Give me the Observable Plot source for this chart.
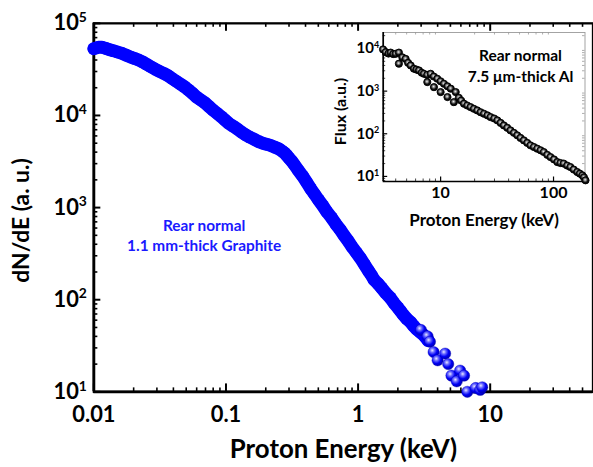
<!DOCTYPE html>
<html><head><meta charset="utf-8">
<script src="https://cdn.jsdelivr.net/npm/d3@7"></script>
<script src="https://cdn.jsdelivr.net/npm/@observablehq/plot@0.6"></script>
<style>
html,body{margin:0;padding:0;background:#fff;overflow:hidden;}
#wrap{position:relative;width:593px;height:467px;overflow:hidden;background:#fff;}
#wrap svg{position:absolute;}
</style></head><body><div id="wrap"></div>
<script>
// ---- main spectrum (1.1 mm graphite), dense band ----
const mainEnergy = [0.0100,0.0108,0.0115,0.0123,0.0130,0.0140,0.0150,0.0163,0.0176,0.0190,0.0204,0.0218,0.0235,0.0250,0.0270,0.0291,0.0315,0.0340,0.0365,0.0388,0.0420,0.0450,0.0485,0.0518,0.0560,0.0600,0.0645,0.0693,0.0745,0.0800,0.0860,0.0920,0.0985,0.105,0.114,0.123,0.131,0.140,0.152,0.164,0.177,0.190,0.205,0.220,0.235,0.250,0.263,0.276,0.288,0.300,0.314,0.328,0.352,0.380,0.408,0.438,0.468,0.500,0.540,0.580,0.630,0.680,0.730,0.780,0.840,0.900,0.970,1.04,1.12,1.20,1.26,1.32,1.41,1.50,1.62,1.75,1.87,2.00,2.10,2.19,2.34,2.50,2.63,2.77,2.92,3.10,3.25,3.39];
const mainDNdE = [53000,55000,55000,53500,52000,50500,49000,47200,45000,43000,41500,40000,38000,36000,33800,31800,30000,28500,27000,25400,23500,22000,20500,19000,17300,15800,14700,13700,12500,11400,10500,9700,8900,8200,7600,7060,6600,6200,5800,5500,5200,5000,4850,4700,4520,4350,4150,3950,3700,3450,3200,2950,2550,2200,1880,1600,1400,1220,1050,900,775,660,580,503,435,375,325,283,240,205,185,165,150,135,118,105,92,82,75,69,62,57,52,48,45,42,39,36];
// ---- main spectrum, sparse high-energy tail ----
const tailEnergy = [2.99,3.36,3.50,3.73,4.00,4.56,4.81,5.09,5.58,5.92,6.34,6.71,7.76,8.40,8.70];
const tailDNdE = [47,40,35,27,22,26,20,15,13,17,15,10,11,10.5,11.2];
// ---- inset spectrum (7.5 um Al) ----
const insetEnergy = [3.09,3.26,3.45,3.61,3.8,4.0,4.27,4.27,4.58,4.9,5.15,5.43,5.8,6.1,6.43,6.8,7.11,7.62,7.6,8.16,8.73,8.7,9.35,10.0,10.0,10.7,11.5,11.5,12.3,13.1,13.6,14.5,15.2,16.1,17.2,18.4,19.7,21.1,22.6,24.2,26,27.7,29.8,31.8,34,36.3,38.9,41.6,44.6,47.7,51,54.6,58.5,62.5,67,71.7,76.8,82,88,94,101,108,115,123,132,141,151,162,171,180,186,192];
const insetFlux = [9500,8200,7600,8000,7400,7500,8000,4400,6200,5700,4600,4000,3350,3200,3050,2700,2550,1630,2400,2550,1240,2200,1950,950,1700,1490,725,1300,1140,552,950,700,600,507,460,422,385,353,320,295,270,246,228,206,180,157,138,120,105,92,80,70,61,53.5,49,44.8,41,37.3,32,28.4,25,21.7,20.6,20,18,16.6,14.5,12.7,11.6,10.6,9.5,8.1];
// ---- ticks and labels ----
const mainXTicks = [0.01,0.1,1,10];
const mainXTickLabels = ["0.01","0.1","1","10"];
const mainYTicks = [10,100,1000,10000,100000];
const mainYExponents = ["1","2","3","4","5"];
const insetXTicks = [10,100];
const insetXTickLabels = ["10","100"];
const insetYTicks = [10,100,1000,10000];
const insetYExponents = ["1","2","3","4"];
const mainXTitle = "Proton Energy (keV)";
const mainYTitle = "dN/dE (a. u.)";
const insetXTitle = "Proton Energy (keV)";
const insetYTitle = "Flux (a.u.)";
const mainNote = "Rear normal\n1.1 mm-thick Graphite";
const insetNote = "Rear normal\n7.5 μm-thick Al";

const minorOf = (decades, mults, lo, hi) => decades.flatMap(d => mults.map(m => d*m)).filter(v => v > lo && v < hi);
const M = [2,3,4,5,6,7,8,9];

const main = mainEnergy.map((e,i) => ({e, v: mainDNdE[i]}));
const tail = tailEnergy.map((e,i) => ({e, v: tailDNdE[i]}));
const inset = insetEnergy.map((e,i) => ({e, v: insetFlux[i]}));

function sup(svg, size) {
  d3.select(svg).selectAll('g[aria-label="y-axis tick label"] text').each(function(){
    const m = this.textContent.match(/^10\^(\d+)$/);
    if (!m) return;
    const t = d3.select(this);
    t.text(null);
    t.append("tspan").text("10");
    t.append("tspan").attr("dy","-0.6em").attr("font-size", size).text(m[1]);
  });
}
function addDefs(svg, suffix) {
  const defs = d3.select(svg).insert("defs", ":first-child");
  const b = defs.append("radialGradient").attr("id","blueBall"+suffix).attr("cx","38%").attr("cy","35%").attr("r","65%");
  b.append("stop").attr("offset","0%").attr("stop-color","#e8e8ff");
  b.append("stop").attr("offset","30%").attr("stop-color","#6a6aff");
  b.append("stop").attr("offset","65%").attr("stop-color","#0000f5");
  b.append("stop").attr("offset","100%").attr("stop-color","#0000b4");
  const k = defs.append("radialGradient").attr("id","blackBall"+suffix).attr("cx","45%").attr("cy","42%").attr("r","60%");
  k.append("stop").attr("offset","0%").attr("stop-color","#f0f0f0");
  k.append("stop").attr("offset","28%").attr("stop-color","#8a8a8a");
  k.append("stop").attr("offset","60%").attr("stop-color","#111");
  k.append("stop").attr("offset","100%").attr("stop-color","#000");
}

// ---- main plot ----
const W = 597, H = 467, mL = 94, mT = 23, mB = 73, mR = 0.5;
const pW = W - mL - mR, pH = H - mT - mB;
const xMinor = minorOf([0.01,0.1,1,10], M, 0.01, 60);
const yMinor = minorOf([10,100,1000,10000], M, 10, 100000);
const font = "Lato, 'Open Sans', sans-serif";

const mainSvg = Plot.plot({
  width: W, height: H, marginLeft: mL, marginRight: mR, marginTop: mT, marginBottom: mB,
  style: {fontFamily: font, fontWeight: "bold", color: "#000", background: "transparent", overflow: "visible"},
  x: {type: "log", domain: [0.01, 60]},
  y: {type: "log", domain: [10, 100000]},
  marks: [
    Plot.ruleX(xMinor, {x: d => d, insetTop: pH - 4, stroke: "#000", strokeWidth: 1.6}),
    Plot.ruleX(mainXTicks, {x: d => d, insetTop: pH - 8, stroke: "#000", strokeWidth: 2}),
    Plot.ruleX(xMinor, {x: d => d, insetBottom: pH - 4, stroke: "#000", strokeWidth: 1.6}),
    Plot.ruleX(mainXTicks, {x: d => d, insetBottom: pH - 8, stroke: "#000", strokeWidth: 2}),
    Plot.ruleY(yMinor, {y: d => d, insetRight: pW - 4, stroke: "#000", strokeWidth: 1.6}),
    Plot.ruleY(mainYTicks, {y: d => d, insetRight: pW - 7, stroke: "#000", strokeWidth: 2}),
    Plot.frame({stroke: "#000", strokeWidth: 2.3}),
    Plot.ruleX([0.01], {x: d => d, stroke: "#000", strokeWidth: 2.8}),
    Plot.ruleY([10], {y: d => d, stroke: "#000", strokeWidth: 2.8}),
    Plot.line(main, {x: "e", y: "v", stroke: "#0000ff", strokeWidth: 13, strokeLinecap: "round", strokeLinejoin: "round"}),
    Plot.dot(main, {x: "e", y: "v", r: 6.3, fill: "#0000ff"}),
    Plot.dot(tail, {x: "e", y: "v", r: 5.7, fill: "url(#blueBallM)", stroke: "#0000b8", strokeWidth: 0.4}),
    Plot.axisX({ticks: mainXTicks, tickSize: 0, tickPadding: 15, fontSize: 22, label: null,
      tickFormat: d => mainXTickLabels[mainXTicks.indexOf(d)]}),
    Plot.axisY({ticks: mainYTicks, tickSize: 0, tickPadding: 7, fontSize: 22, label: null,
      tickFormat: d => "10^" + mainYExponents[mainYTicks.indexOf(d)]}),
    Plot.text([mainXTitle], {text: d => d, frameAnchor: "bottom", textAnchor: "middle", lineAnchor: "middle", dy: 58, fontSize: 26, fontWeight: "bold", fill: "#000"}),
    Plot.text([mainYTitle], {text: d => d, frameAnchor: "left", textAnchor: "middle", lineAnchor: "middle", dx: -73, dy: 13, rotate: -90, fontSize: 23, fontWeight: "bold", fill: "#000"}),
    Plot.text([mainNote], {text: d => d, frameAnchor: "top-left", textAnchor: "middle", lineAnchor: "middle", dx: 111, dy: 213, fontSize: 15.5, lineHeight: 1.3, fontWeight: "bold", fill: "#1a1aff"})
  ]
});
addDefs(mainSvg, "M");
sup(mainSvg, "14px");
mainSvg.style.left = "0px"; mainSvg.style.top = "0px";
document.getElementById("wrap").appendChild(mainSvg);

// ---- inset plot ----
const iW = 273, iH = 215, iL = 62.7, iR = 8.5, iT = 7, iB = 59;
const ipW = iW - iL - iR, ipH = iH - iT - iB;
const ixMinor = minorOf([1,10], M, 3.1, 190);
const iyMinor = minorOf([1,10,100,1000,10000], M, 7.6, 23700);

const insetSvg = Plot.plot({
  width: iW, height: iH, marginLeft: iL, marginRight: iR, marginTop: iT, marginBottom: iB,
  style: {fontFamily: font, fontWeight: "bold", color: "#000", background: "transparent", overflow: "visible"},
  x: {type: "log", domain: [3.1, 190]},
  y: {type: "log", domain: [7.6, 23700]},
  marks: [
    Plot.frame({fill: "#fff", stroke: "#9a9a9a", strokeWidth: 0.9}),
    Plot.ruleX(ixMinor, {x: d => d, insetTop: ipH - 2.5, stroke: "#333", strokeWidth: 0.9}),
    Plot.ruleX(insetXTicks, {x: d => d, insetTop: ipH - 4.5, stroke: "#000", strokeWidth: 1.2}),
    Plot.ruleX(ixMinor, {x: d => d, insetBottom: ipH - 2.5, stroke: "#999", strokeWidth: 0.8}),
    Plot.ruleY(iyMinor, {y: d => d, insetRight: ipW - 2.5, stroke: "#333", strokeWidth: 0.9}),
    Plot.ruleY(insetYTicks, {y: d => d, insetRight: ipW - 4.5, stroke: "#000", strokeWidth: 1.2}),
    Plot.ruleY(iyMinor, {y: d => d, insetLeft: ipW - 2.5, stroke: "#999", strokeWidth: 0.8}),
    Plot.ruleX([3.1], {x: d => d, stroke: "#000", strokeWidth: 1.7}),
    Plot.ruleY([7.6], {y: d => d, stroke: "#000", strokeWidth: 1.7}),
    Plot.dot(inset, {x: "e", y: "v", r: 3.6, fill: "url(#blackBallI)", stroke: "#000", strokeWidth: 0.9}),
    Plot.axisX({ticks: insetXTicks, tickSize: 0, tickPadding: 5, fontSize: 16, label: null,
      tickFormat: d => insetXTickLabels[insetXTicks.indexOf(d)]}),
    Plot.axisY({ticks: insetYTicks, tickSize: 0, tickPadding: 4, fontSize: 15, label: null,
      tickFormat: d => "10^" + insetYExponents[insetYTicks.indexOf(d)]}),
    Plot.text([insetXTitle], {text: d => d, frameAnchor: "bottom", textAnchor: "middle", lineAnchor: "middle", dy: 39, fontSize: 17, fontWeight: "bold", fill: "#000"}),
    Plot.text([insetYTitle], {text: d => d, frameAnchor: "left", textAnchor: "middle", lineAnchor: "middle", dx: -42.7, dy: 4.5, rotate: -90, fontSize: 16, fontWeight: "bold", fill: "#000"}),
    Plot.text([insetNote], {text: d => d, frameAnchor: "top-left", textAnchor: "middle", lineAnchor: "middle", dx: 137.3, dy: 32, fontSize: 15.5, lineHeight: 1.4, fontWeight: "bold", fill: "#000"})
  ]
});
addDefs(insetSvg, "I");
sup(insetSvg, "9px");
insetSvg.style.left = "320px"; insetSvg.style.top = "25px";
document.getElementById("wrap").appendChild(insetSvg);
</script></body></html>
